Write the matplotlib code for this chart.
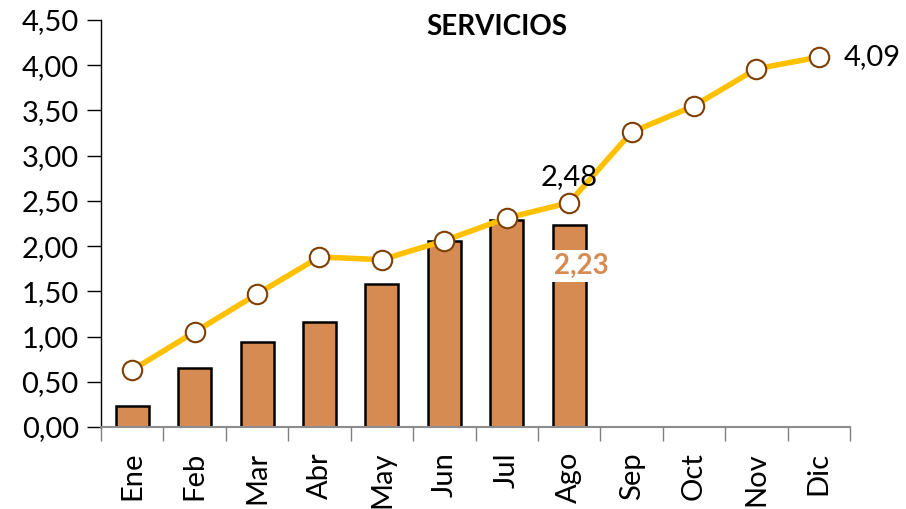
import numpy as np
import matplotlib.pyplot as plt

plt.rcParams['font.family'] = ['Lato', 'DejaVu Sans']

meses = ['Ene', 'Feb', 'Mar', 'Abr', 'May', 'Jun', 'Jul', 'Ago', 'Sep', 'Oct', 'Nov', 'Dic']
barras = [0.23, 0.65, 0.94, 1.16, 1.58, 2.06, 2.29, 2.23]
linea = [0.63, 1.05, 1.47, 1.88, 1.85, 2.06, 2.31, 2.48, 3.26, 3.55, 3.96, 4.09]
yticks = [0, 0.5, 1, 1.5, 2, 2.5, 3, 3.5, 4, 4.5]

fig = plt.figure(figsize=(9.06, 5.09), dpi=100)
ax = fig.add_axes([101/906, 1-427/509, 749/906, 407/509])

x = np.arange(len(meses))
xb = np.arange(len(barras))
ax.bar(xb, barras, width=0.53, color='#D68B52', edgecolor='black', linewidth=1.8, zorder=2)
ax.plot(x, linea, color='#FFC000', linewidth=4, marker='o', markersize=14,
        markerfacecolor='white', markeredgecolor='#7F3F00', markeredgewidth=1.5, zorder=3)

ax.set_xlim(-0.5, len(meses)-0.5)
ax.set_ylim(0, 4.5)
ax.set_yticks(yticks)
ax.set_yticklabels([f'{v:.2f}'.replace('.', ',') for v in yticks], fontsize=21)
ax.set_xticks(x)
ax.set_xticklabels(meses, rotation=90, fontsize=21)
ax.tick_params(axis='x', length=0, pad=18)
ax.set_xticks(np.arange(-0.5, len(meses)), minor=True)
ax.tick_params(axis='x', which='minor', length=10, color='#7f7f7f', width=1)
ax.tick_params(axis='y', length=10, color='black', width=1, pad=6)

for s in ['top', 'right']:
    ax.spines[s].set_visible(False)
ax.spines['bottom'].set_color('#8c8c8c')
ax.spines['bottom'].set_linewidth(1.5)
ax.spines['left'].set_linewidth(1)

ax.text(7, linea[7] + 0.14, '2,48', ha='center', va='bottom', fontsize=21)
ax.text(11 + 0.4, linea[11], '4,09', ha='left', va='center', fontsize=21)
ax.text(7.2, barras[7] - 0.45, '2,23', ha='center', va='center', fontsize=20,
        fontweight='bold', color='#D68B52',
        bbox=dict(facecolor='white', edgecolor='none', pad=2), zorder=4)

ax.text(0.529, 0.983, 'SERVICIOS', transform=ax.transAxes, ha='center', va='center',
        fontsize=20, fontweight='bold')

fig.savefig('out.png', dpi=100)
